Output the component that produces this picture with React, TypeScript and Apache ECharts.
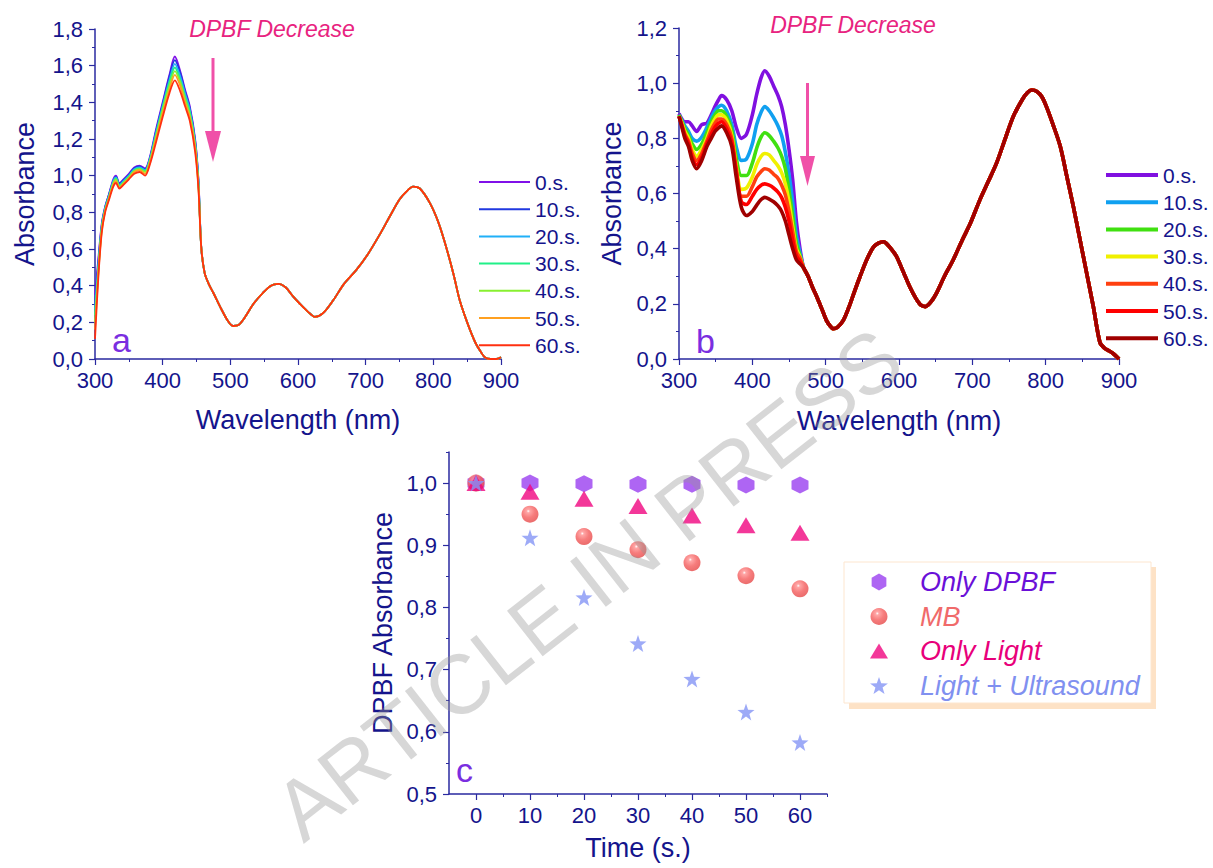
import React, { useEffect, useRef } from "react";
import * as echarts from "echarts";

const NAVY = "#14148c";
const AXIS = "#2a2aa0";
const FONT = "'Liberation Sans', Arial, sans-serif";

const timeNames = ["0.s.", "10.s.", "20.s.", "30.s.", "40.s.", "50.s.", "60.s."];

// ---------- Panel a ----------
const aHeadWave = [300, 305, 310, 315, 320, 327, 331, 336, 342, 350, 358, 366, 374, 381, 390, 400, 410, 418, 426, 433, 440, 448, 453];
const a0s = [0.35, 0.55, 0.74, 0.83, 0.89, 0.98, 1.0, 0.96, 0.98, 1.01, 1.045, 1.055, 1.04, 1.1, 1.25, 1.4, 1.55, 1.65, 1.57, 1.47, 1.38, 1.2, 0.97];
const a10s = [0.3, 0.53, 0.73, 0.83, 0.89, 0.97, 0.995, 0.955, 0.975, 1.005, 1.04, 1.05, 1.035, 1.095, 1.24, 1.39, 1.54, 1.63, 1.56, 1.46, 1.37, 1.19, 0.965];
const a20s = [0.27, 0.51, 0.72, 0.82, 0.88, 0.97, 0.99, 0.95, 0.97, 1.0, 1.035, 1.045, 1.03, 1.09, 1.23, 1.38, 1.52, 1.61, 1.54, 1.45, 1.36, 1.18, 0.96];
const a30s = [0.24, 0.5, 0.72, 0.82, 0.88, 0.96, 0.985, 0.945, 0.965, 0.995, 1.03, 1.04, 1.025, 1.085, 1.22, 1.37, 1.51, 1.59, 1.52, 1.43, 1.35, 1.17, 0.95];
const a40s = [0.2, 0.48, 0.71, 0.81, 0.87, 0.96, 0.98, 0.94, 0.96, 0.99, 1.025, 1.035, 1.02, 1.08, 1.21, 1.36, 1.49, 1.57, 1.51, 1.42, 1.33, 1.16, 0.94];
const a50s = [0.16, 0.47, 0.7, 0.81, 0.87, 0.95, 0.97, 0.935, 0.955, 0.985, 1.02, 1.03, 1.01, 1.07, 1.2, 1.34, 1.47, 1.55, 1.49, 1.4, 1.32, 1.15, 0.93];
const a60s = [0.11, 0.45, 0.69, 0.8, 0.86, 0.94, 0.96, 0.93, 0.95, 0.98, 1.01, 1.02, 1.0, 1.06, 1.18, 1.32, 1.45, 1.52, 1.46, 1.38, 1.3, 1.13, 0.92];
const aTailWave = [457, 462, 468, 475, 487, 496, 504, 512, 522, 534, 548, 560, 571, 582, 593, 603, 614, 625, 637, 652, 668, 686, 703, 721, 736, 750, 762, 770, 780, 795, 808, 819, 830, 839, 850, 862, 870, 876, 885, 893, 900];
const aTailAbs = [0.61, 0.47, 0.41, 0.36, 0.27, 0.21, 0.18, 0.185, 0.23, 0.3, 0.36, 0.4, 0.41, 0.39, 0.34, 0.3, 0.26, 0.23, 0.25, 0.32, 0.41, 0.485, 0.57, 0.68, 0.78, 0.87, 0.92, 0.94, 0.93, 0.85, 0.74, 0.61, 0.46, 0.32, 0.2, 0.09, 0.04, 0.01, 0.0, 0.0, 0.01];
const aHeads = [a0s, a10s, a20s, a30s, a40s, a50s, a60s];
const aColors = ["#8010e8", "#2038e0", "#20b0f8", "#20f088", "#88f030", "#ffa020", "#ff3010"];

// ---------- Panel b ----------
const bHeadWave = [300, 304, 308, 313, 318, 324, 331, 338, 344, 349, 354, 358, 365, 372, 378, 385, 392, 400, 406, 412, 417, 423, 429, 435, 440, 445, 450, 455, 460, 465];
const b0s = [0.89, 0.87, 0.86, 0.86, 0.845, 0.825, 0.85, 0.855, 0.885, 0.915, 0.94, 0.955, 0.94, 0.9, 0.84, 0.8, 0.815, 0.885, 0.96, 1.02, 1.045, 1.025, 0.99, 0.955, 0.915, 0.85, 0.76, 0.65, 0.5, 0.4];
const b10s = [0.885, 0.865, 0.845, 0.825, 0.8, 0.79, 0.805, 0.84, 0.875, 0.9, 0.915, 0.92, 0.9, 0.85, 0.77, 0.72, 0.725, 0.78, 0.85, 0.895, 0.915, 0.9, 0.875, 0.845, 0.81, 0.75, 0.67, 0.57, 0.45, 0.385];
const b20s = [0.885, 0.86, 0.835, 0.81, 0.78, 0.76, 0.78, 0.82, 0.86, 0.885, 0.9, 0.9, 0.88, 0.83, 0.73, 0.665, 0.665, 0.71, 0.765, 0.805, 0.82, 0.81, 0.79, 0.765, 0.735, 0.69, 0.61, 0.52, 0.42, 0.375];
const b30s = [0.88, 0.855, 0.825, 0.8, 0.76, 0.735, 0.76, 0.8, 0.845, 0.87, 0.885, 0.885, 0.865, 0.81, 0.7, 0.615, 0.62, 0.66, 0.705, 0.735, 0.745, 0.74, 0.72, 0.7, 0.675, 0.635, 0.57, 0.48, 0.4, 0.37];
const b40s = [0.88, 0.85, 0.815, 0.79, 0.745, 0.72, 0.745, 0.79, 0.83, 0.855, 0.87, 0.87, 0.85, 0.8, 0.69, 0.59, 0.59, 0.625, 0.66, 0.68, 0.69, 0.685, 0.67, 0.655, 0.63, 0.595, 0.535, 0.46, 0.39, 0.365];
const b50s = [0.88, 0.845, 0.81, 0.78, 0.73, 0.705, 0.73, 0.78, 0.815, 0.84, 0.855, 0.86, 0.835, 0.785, 0.68, 0.57, 0.56, 0.59, 0.615, 0.63, 0.635, 0.63, 0.62, 0.605, 0.585, 0.55, 0.5, 0.43, 0.375, 0.355];
const b60s = [0.88, 0.84, 0.8, 0.77, 0.72, 0.69, 0.72, 0.77, 0.8, 0.825, 0.838, 0.845, 0.82, 0.77, 0.66, 0.55, 0.52, 0.535, 0.558, 0.578, 0.586, 0.58, 0.57, 0.555, 0.535, 0.5, 0.45, 0.4, 0.36, 0.345];
const bTailWave = [470, 476, 482, 488, 495, 501, 506, 510, 516, 524, 532, 540, 547, 556, 565, 572, 579, 586, 592, 597, 606, 615, 623, 630, 636, 643, 651, 662, 674, 686, 697, 710, 722, 733, 745, 756, 768, 775, 781, 788, 795, 801, 810, 820, 829, 838, 847, 856, 865, 874, 880, 886, 892, 900];
const bTailAbs = [0.33, 0.3, 0.26, 0.225, 0.18, 0.14, 0.12, 0.11, 0.115, 0.14, 0.19, 0.25, 0.3, 0.36, 0.405, 0.42, 0.425, 0.41, 0.39, 0.37, 0.315, 0.26, 0.22, 0.195, 0.19, 0.205, 0.238, 0.3, 0.36, 0.43, 0.49, 0.575, 0.645, 0.71, 0.8, 0.88, 0.94, 0.965, 0.975, 0.97, 0.95, 0.915, 0.85, 0.77, 0.66, 0.55, 0.43, 0.31, 0.19, 0.06, 0.04, 0.03, 0.02, 0.0];
const bHeads = [b0s, b10s, b20s, b30s, b40s, b50s, b60s];
const bColors = ["#8010e0", "#10a0f0", "#40e010", "#f0f000", "#ff4010", "#ff0000", "#a00000"];

// ---------- Panel c ----------
const times = [0, 10, 20, 30, 40, 50, 60];
const onlyDPBF = [1.0, 1.0, 0.999, 0.998, 0.998, 0.997, 0.997];
const mbVals = [1.0, 0.95, 0.914, 0.893, 0.872, 0.851, 0.83];
const onlyLight = [1.0, 0.986, 0.975, 0.963, 0.948, 0.932, 0.92];
const lightUS = [1.0, 0.912, 0.816, 0.742, 0.685, 0.632, 0.583];
const timeTicks = [0, 10, 20, 30, 40, 50, 60];
const timeMinorTicks = [5, 15, 25, 35, 45, 55, 65];
const cYTicks = [0.5, 0.6, 0.7, 0.8, 0.9, 1.0];
const cYMinorTicks = [0.55, 0.65, 0.75, 0.85, 0.95, 1.05];

const HEX = "path://M0,-10L8.66,-5L8.66,5L0,10L-8.66,5L-8.66,-5Z";
const STAR = "path://M0,-10L2.35,-3.24L9.51,-3.09L3.8,1.24L5.88,8.09L0,4L-5.88,8.09L-3.8,1.24L-9.51,-3.09L-2.35,-3.24Z";
const TRI = "path://M0,-8L9.5,8L-9.5,8Z";

const comma = (v: number) => v.toFixed(1).replace(".", ",");

const pairs = (xs: number[], ys: number[]) => xs.map((x, i) => [x, ys[i]]);

function baseAxis(extra: any) {
  return {
    type: "value",
    axisLine: { show: true, onZero: false, lineStyle: { color: AXIS, width: 1.5 } },
    axisTick: { show: true, length: 6, lineStyle: { color: AXIS, width: 1.2 } },
    minorTick: { show: true, splitNumber: 2, length: 3, lineStyle: { color: AXIS, width: 1 } },
    axisLabel: { fontSize: 22, color: NAVY, fontFamily: FONT },
    splitLine: { show: false },
    minorSplitLine: { show: false },
    nameTextStyle: { fontSize: 27, color: NAVY, fontFamily: FONT },
    nameLocation: "middle",
    ...extra,
  };
}

export default function App() {
  const ref = useRef<HTMLDivElement>(null);
  useEffect(() => {
    if (!ref.current) return;
    const chart = echarts.init(ref.current, null, { renderer: "svg" });

    const seriesA = aHeads.map((h, i) => ({
      name: "a|" + timeNames[i],
      type: "line",
      xAxisIndex: 0,
      yAxisIndex: 0,
      symbol: "none",
      showSymbol: false,
      smooth: 0.3,
      data: pairs(aHeadWave, h).concat(pairs(aTailWave, aTailAbs)),
      lineStyle: { color: aColors[i], width: 1.8 },
      itemStyle: { color: aColors[i] },
    }));
    const seriesB = bHeads.map((h, i) => ({
      name: "b|" + timeNames[i],
      type: "line",
      xAxisIndex: 1,
      yAxisIndex: 1,
      symbol: "none",
      showSymbol: false,
      smooth: 0.3,
      data: pairs(bHeadWave, h).concat(pairs(bTailWave, bTailAbs)),
      lineStyle: { color: bColors[i], width: 3.6 },
      itemStyle: { color: bColors[i] },
    }));

    const mbGradient = new echarts.graphic.RadialGradient(0.4, 0.32, 0.7, [
      { offset: 0, color: "#ffffff" },
      { offset: 0.14, color: "#ff9090" },
      { offset: 0.55, color: "#f45c5c" },
      { offset: 1, color: "#e54646" },
    ]);

    const seriesC = [
      { name: "Only DPBF", symbol: HEX, symbolSize: 17, data: pairs(times, onlyDPBF), itemStyle: { color: "#9a3ff0" } },
      { name: "MB", symbol: "circle", symbolSize: 17, data: pairs(times, mbVals), itemStyle: { color: mbGradient } },
      { name: "Only Light", symbol: TRI, symbolSize: [19, 16], data: pairs(times, onlyLight), itemStyle: { color: "#f0057f" } },
      { name: "Light + Ultrasound", symbol: STAR, symbolSize: 17, data: pairs(times, lightUS), itemStyle: { color: "#8595f5" } },
    ].map((s) => ({ ...s, type: "scatter", xAxisIndex: 2, yAxisIndex: 2 }));

    const lineLegend = (prefix: string, left: number, top: number, itemWidth: number, lw: number) => ({
      orient: "vertical",
      left,
      top,
      padding: 0,
      icon: "rect",
      itemWidth,
      itemHeight: lw,
      itemGap: 6.2,
      selectedMode: false,
      data: timeNames.map((n) => prefix + n),
      formatter: (n: string) => n.split("|")[1],
      textStyle: { fontSize: 21, lineHeight: 21, color: NAVY, fontFamily: FONT },
    });

    const option: any = {
      animation: false,
      backgroundColor: "#ffffff",
      textStyle: { fontFamily: FONT },
      grid: [
        { left: 95, top: 29, width: 406, height: 330 },
        { left: 679, top: 28, width: 440, height: 331 },
        { left: 449, top: 452, width: 378, height: 342 },
      ],
      xAxis: [
        baseAxis({ gridIndex: 0, position: "bottom", min: 300, max: 900, interval: 100, name: "Wavelength (nm)", nameGap: 47, axisLabel: { fontSize: 22, color: NAVY, margin: 10 } }),
        baseAxis({ gridIndex: 1, position: "bottom", min: 300, max: 900, interval: 100, name: "Wavelength (nm)", nameGap: 48, axisLabel: { fontSize: 22, color: NAVY, margin: 10 } }),
        baseAxis({
          gridIndex: 2, position: "bottom", min: -5, max: 65, name: "Time (s.)", nameGap: 40,
          axisTick: { show: true, length: 6, customValues: timeTicks, lineStyle: { color: AXIS, width: 1.2 } },
          minorTick: { show: false },
          axisLabel: { fontSize: 22, color: NAVY, margin: 10, customValues: timeTicks },
        }),
        baseAxis({
          gridIndex: 2, position: "bottom", min: -5, max: 65,
          axisLine: { show: false, onZero: false },
          axisTick: { show: true, length: 3, customValues: timeMinorTicks, lineStyle: { color: AXIS, width: 1 } },
          minorTick: { show: false },
          axisLabel: { show: false },
        }),
      ],
      yAxis: [
        baseAxis({ gridIndex: 0, position: "left", min: 0, max: 1.8, interval: 0.2, name: "Absorbance", nameGap: 57, nameRotate: 90, axisLabel: { fontSize: 22, color: NAVY, margin: 12, formatter: comma } }),
        baseAxis({ gridIndex: 1, position: "left", min: 0, max: 1.2, interval: 0.2, name: "Absorbance", nameGap: 54, nameRotate: 90, axisLabel: { fontSize: 22, color: NAVY, margin: 12, formatter: comma } }),
        baseAxis({
          gridIndex: 2, position: "left", min: 0.5, max: 1.05, name: "DPBF Absorbance", nameGap: 53, nameRotate: 90,
          axisTick: { show: true, length: 6, customValues: cYTicks, lineStyle: { color: AXIS, width: 1.2 } },
          minorTick: { show: false },
          axisLabel: { fontSize: 22, color: NAVY, margin: 12, customValues: cYTicks, formatter: comma },
        }),
        baseAxis({
          gridIndex: 2, position: "left", min: 0.5, max: 1.05,
          axisLine: { show: false, onZero: false },
          axisTick: { show: true, length: 3, customValues: cYMinorTicks, lineStyle: { color: AXIS, width: 1 } },
          minorTick: { show: false },
          axisLabel: { show: false },
        }),
      ],
      legend: [
        lineLegend("a|", 479, 171.5, 51, 2),
        lineLegend("b|", 1106, 164.5, 52, 4),
        {
          orient: "vertical",
          left: 870,
          top: 568.5,
          padding: 0,
          itemWidth: 18,
          itemHeight: 17,
          itemGap: 7.5,
          selectedMode: false,
          textStyle: { fontSize: 27, lineHeight: 27, fontStyle: "italic", fontFamily: FONT, padding: [0, 0, 0, 27] },
          data: [
            { name: "Only DPBF", textStyle: { color: "#6a10d8" } },
            { name: "MB", textStyle: { color: "#f06a6a" } },
            { name: "Only Light", textStyle: { color: "#e8007a" } },
            { name: "Light + Ultrasound", textStyle: { color: "#8090f0" } },
          ],
        },
      ],
      graphic: {
        elements: [
          { type: "rect", shape: { x: 849, y: 567, width: 307, height: 142 }, style: { fill: "#fde2c6" }, z: 0 },
          { type: "rect", shape: { x: 844, y: 562, width: 307, height: 141 }, style: { fill: "#ffffff", stroke: "#fde6cf", lineWidth: 1 }, z: 1 },
          { type: "text", x: 272, y: 29, style: { text: "DPBF Decrease", fill: "#e8237f", font: `italic 23px ${FONT}`, textAlign: "center", textVerticalAlign: "middle" } },
          { type: "text", x: 853, y: 25, style: { text: "DPBF Decrease", fill: "#e8237f", font: `italic 23px ${FONT}`, textAlign: "center", textVerticalAlign: "middle" } },
          { type: "rect", shape: { x: 211.5, y: 58, width: 3, height: 74 }, style: { fill: "#f050a8" } },
          { type: "polygon", shape: { points: [[205, 131], [221, 131], [213, 162]] }, style: { fill: "#f050a8" } },
          { type: "rect", shape: { x: 806, y: 83, width: 3, height: 74 }, style: { fill: "#f050a8" } },
          { type: "polygon", shape: { points: [[800, 156], [815, 156], [807.5, 186]] }, style: { fill: "#f050a8" } },
          { type: "text", x: 112, y: 340, style: { text: "a", fill: "#7a2ee0", font: `34px ${FONT}`, textAlign: "left", textVerticalAlign: "middle" } },
          { type: "text", x: 696, y: 341, style: { text: "b", fill: "#7a2ee0", font: `34px ${FONT}`, textAlign: "left", textVerticalAlign: "middle" } },
          { type: "text", x: 456, y: 770, style: { text: "c", fill: "#7a2ee0", font: `34px ${FONT}`, textAlign: "left", textVerticalAlign: "middle" } },
          {
            type: "text", x: 588, y: 584, rotation: 0.665, z: 100,
            style: { text: "ARTICLE IN PRESS", fill: "rgba(150,150,150,0.38)", font: `84px ${FONT}`, textAlign: "center", textVerticalAlign: "middle" },
          },
        ],
      },
      series: [...seriesA, ...seriesB, ...seriesC],
    };

    chart.setOption(option);
    return () => chart.dispose();
  }, []);

  return <div ref={ref} style={{ position: "absolute", left: 0, top: 0, width: 1213, height: 868 }} />;
}
